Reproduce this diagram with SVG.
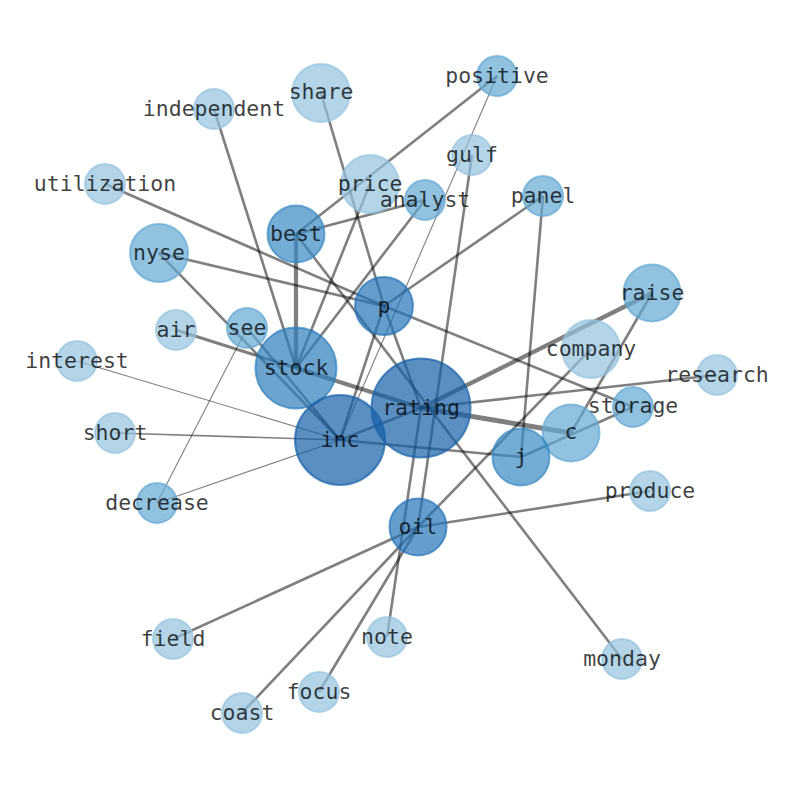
<svg xmlns="http://www.w3.org/2000/svg" width="794" height="790" viewBox="0 0 794 790">
<style>
.e{stroke:#000;stroke-opacity:0.5;stroke-width:2.6;fill:none;stroke-linecap:butt}
.t{stroke-width:1.1}
.m{stroke-width:1.6}
.k{stroke-width:4.2}
.n circle{stroke-width:2;fill-opacity:0.7;stroke-opacity:0.7}
.d1{fill:#94c3de;stroke:#94c3de}
.d2{fill:#62a8d3;stroke:#62a8d3}
.d4{fill:#3889c2;stroke:#3889c2}
.d6{fill:#2d7ebc;stroke:#2d7ebc}
.d7{fill:#2474b8;stroke:#2474b8}
.d9{fill:#1660a8;stroke:#1660a8}
text{font-family:"DejaVu Sans Mono","Liberation Mono",monospace;font-size:21.5px;fill:#000;fill-opacity:0.75;text-anchor:middle;dominant-baseline:central;transform:translate(0px,-1px)}
</style>
<rect width="794" height="790" fill="#fff"/>
<g id="edges">
<line class="e" x1="321" y1="93" x2="384" y2="306"/>
<line class="e" x1="384" y1="306" x2="421" y2="408"/>
<line class="e" x1="214" y1="109" x2="296" y2="368"/>
<line class="e" x1="497" y1="76" x2="296" y2="234"/>
<line class="e t" x1="497" y1="76" x2="340" y2="440"/>
<line class="e" x1="472" y1="155" x2="418" y2="527"/>
<line class="e" x1="105" y1="184" x2="384" y2="306"/>
<line class="e" x1="370" y1="184" x2="296" y2="368"/>
<line class="e" x1="425" y1="200" x2="296" y2="234"/>
<line class="e" x1="425" y1="200" x2="296" y2="368"/>
<line class="e" x1="543" y1="196" x2="384" y2="306"/>
<line class="e" x1="543" y1="196" x2="521" y2="457"/>
<line class="e k" x1="296" y1="234" x2="296" y2="368"/>
<line class="e" x1="296" y1="234" x2="622" y2="659"/>
<line class="e" x1="159" y1="253" x2="384" y2="306"/>
<line class="e" x1="159" y1="253" x2="340" y2="440"/>
<line class="e k" x1="652" y1="293" x2="421" y2="408"/>
<line class="e" x1="652" y1="293" x2="571" y2="433"/>
<line class="e" x1="176" y1="330" x2="296" y2="368" style="stroke-width:3"/>
<line class="e k" x1="296" y1="368" x2="421" y2="408"/>
<line class="e" x1="247" y1="328" x2="340" y2="440"/>
<line class="e t" x1="247" y1="328" x2="157" y2="503"/>
<line class="e t" x1="77" y1="361" x2="340" y2="440"/>
<line class="e" x1="591" y1="349" x2="418" y2="527"/>
<line class="e" x1="717" y1="375" x2="421" y2="408"/>
<line class="e" x1="421" y1="408" x2="571" y2="433" style="stroke-width:5"/>
<line class="e" x1="633" y1="407" x2="384" y2="306"/>
<line class="e" x1="633" y1="407" x2="521" y2="457"/>
<line class="e" x1="340" y1="440" x2="421" y2="408"/>
<line class="e" x1="340" y1="440" x2="521" y2="457"/>
<line class="e" x1="340" y1="440" x2="384" y2="306"/>
<line class="e m" x1="115" y1="433" x2="340" y2="440"/>
<line class="e t" x1="157" y1="503" x2="340" y2="440"/>
<line class="e" x1="650" y1="491" x2="418" y2="527"/>
<line class="e" x1="173" y1="639" x2="418" y2="527"/>
<line class="e" x1="242" y1="713" x2="418" y2="527"/>
<line class="e" x1="319" y1="692" x2="418" y2="527"/>
<line class="e" x1="421" y1="408" x2="387" y2="637"/>
</g>
<g id="node-share" class="n"><circle class="d1" cx="321" cy="93" r="29"/><text x="321" y="92">share</text></g>
<g id="node-independent" class="n"><circle class="d1" cx="214" cy="109" r="20"/><text x="214" y="109">independent</text></g>
<g id="node-positive" class="n"><circle class="d2" cx="497" cy="76" r="20"/><text x="497" y="76">positive</text></g>
<g id="node-gulf" class="n"><circle class="d1" cx="472" cy="155" r="20"/><text x="472" y="155">gulf</text></g>
<g id="node-utilization" class="n"><circle class="d1" cx="105" cy="184" r="20"/><text x="105" y="184">utilization</text></g>
<g id="node-price" class="n"><circle class="d1" cx="370" cy="184" r="29"/><text x="370" y="184">price</text></g>
<g id="node-analyst" class="n"><circle class="d2" cx="425" cy="200" r="20"/><text x="425" y="200">analyst</text></g>
<g id="node-panel" class="n"><circle class="d2" cx="543" cy="196" r="20"/><text x="543" y="196">panel</text></g>
<g id="node-best" class="n"><circle class="d4" cx="296" cy="234" r="28.5"/><text x="296" y="234">best</text></g>
<g id="node-nyse" class="n"><circle class="d2" cx="159" cy="253" r="29"/><text x="159" y="253">nyse</text></g>
<g id="node-p" class="n"><circle class="d7" cx="384" cy="306" r="29"/><text x="384" y="306">p</text></g>
<g id="node-raise" class="n"><circle class="d2" cx="652" cy="293" r="28.5"/><text x="652" y="293">raise</text></g>
<g id="node-air" class="n"><circle class="d1" cx="176" cy="330" r="20"/><text x="176" y="330">air</text></g>
<g id="node-see" class="n"><circle class="d2" cx="247" cy="328" r="20"/><text x="247" y="328">see</text></g>
<g id="node-interest" class="n"><circle class="d1" cx="77" cy="361" r="20"/><text x="77" y="361">interest</text></g>
<g id="node-stock" class="n"><circle class="d6" cx="296" cy="368" r="40.5"/><text x="296" y="368">stock</text></g>
<g id="node-company" class="n"><circle class="d1" cx="591" cy="349" r="29"/><text x="591" y="349">company</text></g>
<g id="node-research" class="n"><circle class="d1" cx="717" cy="375" r="20"/><text x="717" y="375">research</text></g>
<g id="node-rating" class="n"><circle class="d9" cx="421" cy="408" r="49.5"/><text x="421" y="408">rating</text></g>
<g id="node-storage" class="n"><circle class="d2" cx="633" cy="407" r="20"/><text x="633" y="406">storage</text></g>
<g id="node-c" class="n"><circle class="d2" cx="571" cy="433" r="28.5"/><text x="571" y="432">c</text></g>
<g id="node-inc" class="n"><circle class="d9" cx="340" cy="440" r="45"/><text x="340" y="440">inc</text></g>
<g id="node-short" class="n"><circle class="d1" cx="115" cy="433" r="20"/><text x="115" y="433">short</text></g>
<g id="node-j" class="n"><circle class="d4" cx="521" cy="457" r="28.5"/><text x="521" y="457">j</text></g>
<g id="node-decrease" class="n"><circle class="d2" cx="157" cy="503" r="20"/><text x="157" y="503">decrease</text></g>
<g id="node-produce" class="n"><circle class="d1" cx="650" cy="491" r="20"/><text x="650" y="491">produce</text></g>
<g id="node-oil" class="n"><circle class="d7" cx="418" cy="527" r="28.5"/><text x="418" y="527">oil</text></g>
<g id="node-field" class="n"><circle class="d1" cx="173" cy="639" r="20"/><text x="173" y="639">field</text></g>
<g id="node-note" class="n"><circle class="d1" cx="387" cy="637" r="20"/><text x="387" y="637">note</text></g>
<g id="node-monday" class="n"><circle class="d1" cx="622" cy="659" r="20"/><text x="622" y="659">monday</text></g>
<g id="node-focus" class="n"><circle class="d1" cx="319" cy="692" r="20"/><text x="319" y="692">focus</text></g>
<g id="node-coast" class="n"><circle class="d1" cx="242" cy="713" r="20"/><text x="242" y="713">coast</text></g>
</svg>
